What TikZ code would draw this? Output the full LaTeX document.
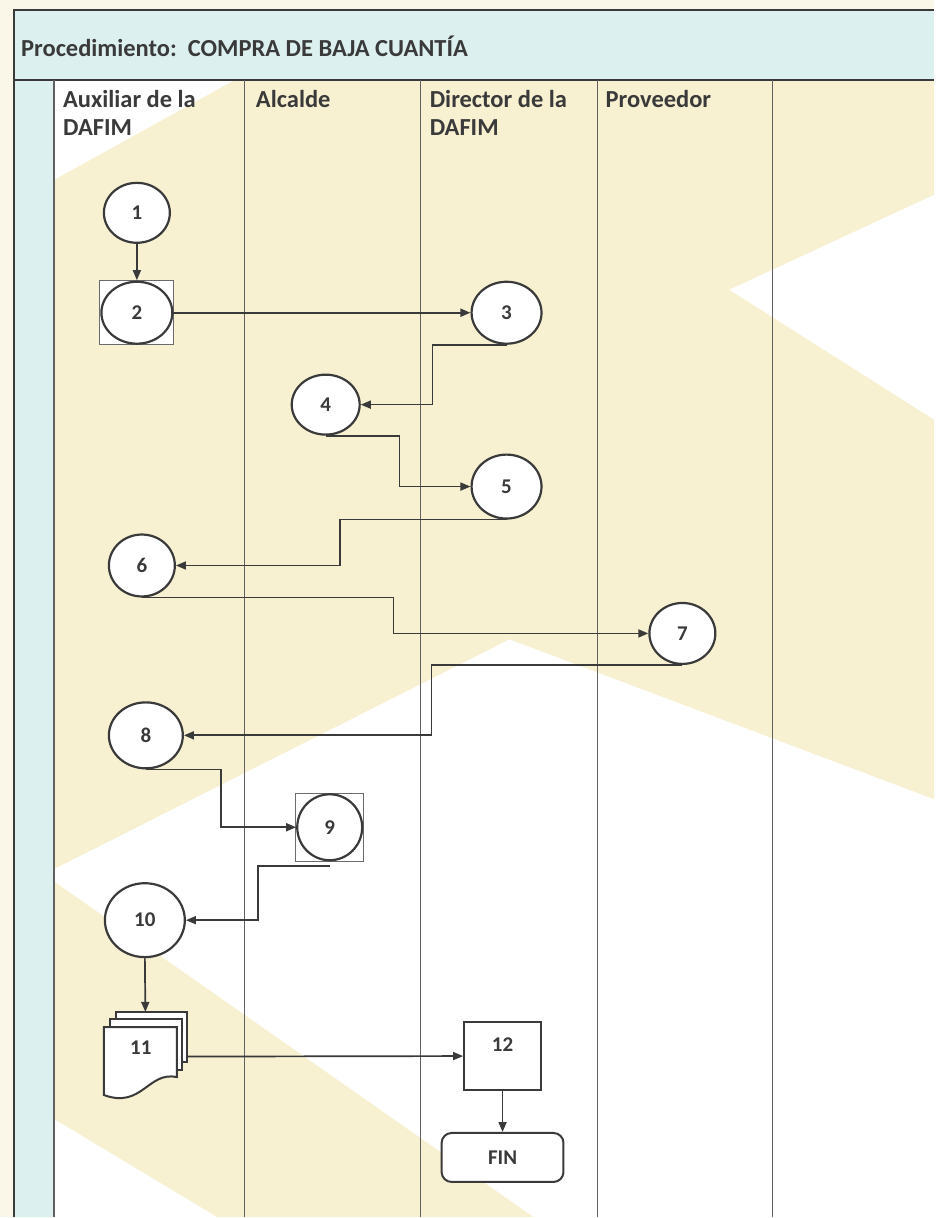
\documentclass[tikz,border=0pt]{standalone}
\usepackage{fontspec}
\setmainfont{Carlito}
\usetikzlibrary{arrows.meta,shapes.geometric,calc}
\definecolor{cream}{HTML}{F7F0D1}
\definecolor{paper}{HTML}{FBF7E8}
\definecolor{paleblue}{HTML}{DDF0F0}
\definecolor{ink}{HTML}{3A3A3A}
\begin{document}
\begin{tikzpicture}[x=1pt,y=-1pt,
  every node/.style={text=ink},
  num/.style={font=\bfseries\fontsize{21}{23}\selectfont},
  proc/.style={ellipse, draw=ink, line width=2.2, fill=white, inner sep=0, num},
  boxed/.style={rectangle, draw=ink!75, line width=1.1, fill=white, inner sep=0},
  conn/.style={draw=ink, line width=1.7, -{Triangle[length=10pt,width=8pt]}},
  lane/.style={draw=ink!80, line width=1.1},
  frame/.style={draw=ink, line width=2.2},
  hdr/.style={anchor=north west, align=left, inner sep=0, font=\bfseries\fontsize{24.5}{28}\selectfont}
]
% page and background
\fill[paper] (0,0) rectangle (935,1218);
\fill[cream] (14,80) rectangle (935,1218);
\fill[white] (54,80) -- (235,80) -- (54,180) -- cycle;
\fill[white] (730,290) -- (935,195) -- (935,420) -- cycle;
\fill[white] (54,870) -- (510,640) -- (935,800) -- (935,1218) -- (534,1218) -- (54,882) -- cycle;
\fill[white] (54,1120) -- (217,1218) -- (54,1218) -- cycle;
\fill[paleblue] (14,10) rectangle (935,80);
\fill[paleblue] (14,80) rectangle (54,1218);

% frame and lanes
\draw[frame] (14,1218) -- (14,10) -- (935,10);
\draw[frame] (14,80) -- (935,80);
\foreach \lx in {54,245,421,598,773} \draw[lane] (\lx,80) -- (\lx,1218);

% titles
\node[anchor=west, inner sep=0, font=\bfseries\fontsize{24.5}{28}\selectfont] (title) at (21,46) {Procedimiento:\ \ COMPRA DE BAJA CUANTÍA};
\node[hdr] (h1) at (63,90) {Auxiliar de la\\DAFIM};
\node[hdr] (h2) at (256,90) {Alcalde};
\node[hdr] (h3) at (430,90) {Director de la\\DAFIM};
\node[hdr] (h4) at (606,90) {Proveedor};

% nodes
\node[proc, minimum width=66, minimum height=60] (n1) at (137,213) {1};
\node[boxed, minimum width=74, minimum height=64] (n2) at (137,313) {};
\node[proc, minimum width=71, minimum height=62] (c2) at (n2.center) {2};
\node[proc, minimum width=70, minimum height=62] (n3) at (507,313) {3};
\node[proc, minimum width=68, minimum height=60] (n4) at (326,405) {4};
\node[proc, minimum width=70, minimum height=64] (n5) at (507,487) {5};
\node[proc, minimum width=66, minimum height=62] (n6) at (142,566) {6};
\node[proc, minimum width=66, minimum height=61] (n7) at (683,634) {7};
\node[proc, minimum width=74, minimum height=66] (n8) at (146,736) {8};
\node[boxed, minimum width=68, minimum height=68] (n9) at (330,828) {};
\node[proc, minimum width=65, minimum height=66] (c9) at (n9.center) {9};
\node[proc, minimum width=80, minimum height=74] (n10) at (145,921) {10};

% multi-document 11
\node[inner sep=0, minimum width=83, minimum height=89] (n11) at (145.5,1057.5) {};
\filldraw[draw=ink, line width=1.6, fill=white] (116,1013) rectangle (187,1063);
\filldraw[draw=ink, line width=1.6, fill=white] (110,1020) rectangle (182,1071);
\filldraw[draw=ink, line width=2, fill=white] (104,1028) -- (177,1028) -- (177,1078)
  .. controls (148,1072) and (142,1110) .. (104,1096) -- cycle;
\node[num] (t11) at (141,1049) {11};

\node[draw=ink, line width=2, fill=white, minimum width=77, minimum height=68, inner sep=0,
  label={[num, anchor=center, yshift=-24pt]north:12}] (n12) at (503,1057) {};
\node[draw=ink, line width=2, fill=white, rounded corners=10, minimum width=122, minimum height=49,
  inner sep=0, num] (fin) at (503,1158.5) {FIN};

% guide coordinates
\coordinate (g34) at (433,0);
\coordinate (g45) at (400,0);
\coordinate (g56) at (340,0);
\coordinate (g67) at (394,0);
\coordinate (g78) at (432,0);
\coordinate (g89) at (221,0);
\coordinate (g910) at (258,0);

% connectors
\draw[conn] (n1) -- (n2);
\draw[conn] (c2.east) -- (n3.west);
\draw[conn] (n3.south) -- (n3.south -| g34) |- (n4.east);
\draw[conn] (n4.south) -- (n4.south -| g45) |- (n5.west);
\draw[conn] (n5.south) -- (n5.south -| g56) |- (n6.east);
\draw[conn] (n6.south) -- (n6.south -| g67) |- (n7.west);
\draw[conn] (n7.south) -- (n7.south -| g78) |- (n8.east);
\draw[conn] (n8.south) -- (n8.south -| g89) |- (c9.west);
\draw[conn] ([yshift=-4pt]n9.south) -- ([yshift=-4pt]n9.south -| g910) |- (n10.east);
\draw[conn] (n10.south) -- (n11.north);
\draw[conn] (n11.east) -- (n12.west);
\draw[conn] (n12.south) -- (fin.north);
\end{tikzpicture}
\end{document}
